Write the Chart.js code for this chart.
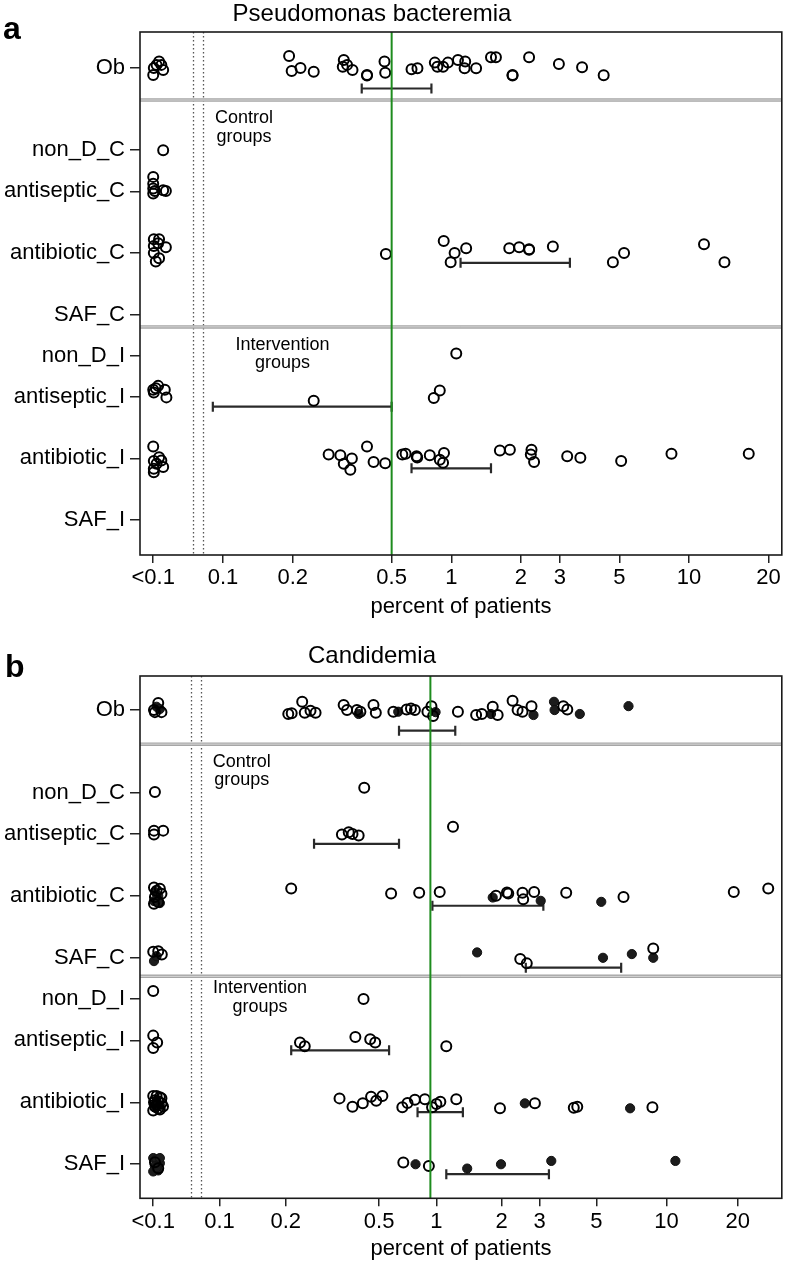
<!DOCTYPE html>
<html>
<head>
<meta charset="utf-8">
<script src="https://cdn.jsdelivr.net/npm/chart.js@4.4.1/dist/chart.umd.min.js"></script>
<style>
  html, body { margin: 0; padding: 0; background: #fff; }
  #wrap { position: relative; width: 789px; height: 1266px; }
  canvas { position: absolute; left: 0; }
  #pse { top: 0; }
  #cand { top: 625px; }
</style>
</head>
<body>
<div id="wrap">
  <canvas id="pse" width="789" height="625"></canvas>
  <canvas id="cand" width="789" height="641"></canvas>
</div>
<script>
const FONT = "'Liberation Sans', Arial, Helvetica, sans-serif";

const rowLabels = ['Ob', 'non_D_C', 'antiseptic_C', 'antibiotic_C', 'SAF_C', 'non_D_I', 'antiseptic_I', 'antibiotic_I', 'SAF_I'];
const tickVals = [0.05, 0.1, 0.2, 0.5, 1, 2, 3, 5, 10, 20];
const tickLabels = ['<0.1', '0.1', '0.2', '0.5', '1', '2', '3', '5', '10', '20'];

// ---- a: Pseudomonas bacteremia, percent of patients per study (values near 0.05 are the "<0.1" column)
const pseOb = [0.050, 0.0503, 0.053, 0.0552, 0.0542, 0.0517, 0.193, 0.198, 0.215, 0.243, 0.318, 0.321, 0.331, 0.348, 0.398, 0.398, 0.468, 0.471, 0.630, 0.675, 0.826, 0.851, 0.909, 0.962, 1.069, 1.142, 1.149, 1.281, 1.486, 1.561, 1.842, 1.842, 2.18, 2.97, 3.63, 4.37];
const pseNonDC = [0.0552];
const pseAntisepticC = [0.050, 0.050, 0.050, 0.050, 0.0508, 0.0567, 0.0552];
const pseAntibioticC = [0.0503, 0.053, 0.0503, 0.0567, 0.0503, 0.053, 0.0513, 0.0525, 0.474, 0.916, 0.993, 1.034, 1.160, 1.783, 1.968, 2.18, 2.18, 2.79, 4.73, 5.24, 11.40, 13.63];
const pseSafC = [];
const pseNonDI = [1.051];
const pseAntisepticI = [0.050, 0.0525, 0.0561, 0.057, 0.0503, 0.0513, 0.243, 0.816, 0.875];
const pseAntibioticI = [0.050, 0.0503, 0.0542, 0.0552, 0.0503, 0.0517, 0.053, 0.0503, 0.279, 0.311, 0.321, 0.346, 0.341, 0.398, 0.423, 0.471, 0.566, 0.588, 0.668, 0.673, 0.779, 0.875, 0.919, 0.909, 1.624, 1.794, 2.235, 2.219, 2.296, 3.195, 3.577, 5.09, 8.40, 16.85];
const pseSafI = [];
const pseCiLow = [0.379, null, null, 1.097, null, null, 0.0904, 0.630, null];
const pseCiHigh = [0.794, null, null, 3.27, null, null, 0.5, 1.486, null];
const pseRef = 0.5;

// ---- b: Candidemia, open = one study type, filled = the other
const candOb = [0.0504, 0.0527, 0.0545, 0.0509, 0.205, 0.212, 0.235, 0.241, 0.255, 0.268, 0.353, 0.365, 0.402, 0.416, 0.473, 0.484, 0.594, 0.697, 0.735, 0.771, 0.897, 0.942, 0.961, 1.257, 1.525, 1.620, 1.819, 1.917, 2.247, 2.370, 2.498, 2.749, 3.712, 3.848];
const candObF = [0.0518, 0.0536, 0.409, 0.630, 0.99, 1.786, 2.807, 3.413, 3.431, 4.308, 6.87];
const candNonDC = [0.0509, 0.432];
const candAntisepticC = [0.0504, 0.0504, 0.0555, 0.347, 0.371, 0.385, 0.409, 1.193];
const candAntibioticC = [0.0504, 0.0518, 0.0536, 0.0509, 0.0545, 0.0527, 0.0504, 0.211, 0.578, 0.812, 1.036, 1.883, 2.116, 2.146, 2.498, 2.516, 2.827, 3.81, 6.54, 19.24, 26.9];
const candAntibioticCF = [0.0509, 0.0527, 0.0518, 0.0536, 0.0504, 1.819, 3.027, 5.25];
const candSafC = [0.050, 0.0527, 0.0547, 2.438, 2.614, 8.77];
const candSafCF = [0.0504, 0.0518, 1.541, 5.34, 7.10, 8.77];
const candNonDI = [0.050, 0.429];
const candAntisepticI = [0.050, 0.0521, 0.050, 0.230, 0.241, 0.396, 0.458, 0.481, 1.111];
const candAntibioticI = [0.050, 0.0509, 0.0518, 0.0527, 0.0536, 0.0545, 0.0554, 0.050, 0.0509, 0.0527, 0.0545, 0.0504, 0.0536, 0.0518, 0.339, 0.385, 0.426, 0.462, 0.486, 0.520, 0.662, 0.705, 0.771, 0.870, 0.949, 1.0, 1.043, 1.235, 1.965, 2.85, 4.08, 4.21, 8.70];
const candAntibioticIF = [0.0518, 0.0536, 0.0509, 2.56, 6.98];
const candSafI = [0.0509, 0.0527, 0.670, 0.913];
const candSafIF = [0.050, 0.0518, 0.0536, 0.0509, 0.0527, 0.050, 0.0518, 0.0536, 0.777, 1.387, 1.986, 3.33, 10.9];
const candCiLow = [0.636, null, 0.264, 0.953, 2.587, null, 0.211, 0.796, 1.111];
const candCiHigh = [1.222, null, 0.636, 3.10, 6.39, null, 0.564, 1.325, 3.26];
const candRef = 0.93;

// ---- layout: row positions, vertical jitter of every point (row units), axis calibration
const rowPos = [0, 4, 6, 9, 12, 14, 16, 19, 22];
const breakVals = [0.0744, 0.0823];

const pseJit = [
  [0.34, 0, -0.31, 0.1, -0.15, -0.15, -0.58, 0.15, 0, 0.18, -0.06, -0.39, -0.15, 0.1, 0.34, 0.37, -0.31, 0.23, 0.06, 0.01, -0.26, -0.06, -0.06, -0.26, -0.39, 0.01, -0.31, 0.01, -0.52, -0.52, 0.34, 0.37, -0.52, -0.19, -0.03, 0.36],
  [0],
  [-0.7, -0.37, -0.13, 0.11, -0.01, -0.01, -0.05],
  [-0.67, -0.67, -0.34, -0.28, 0, 0.26, 0.42, -0.47, 0.05, -0.58, 0.45, 0, -0.23, -0.23, -0.28, -0.18, -0.15, -0.31, 0.45, 0, -0.42, 0.45],
  [],
  [-0.11],
  [-0.34, -0.53, -0.34, 0.03, -0.21, -0.42, 0.19, 0.06, -0.31],
  [-0.58, 0.13, 0.1, 0.42, 0.5, 0.26, -0.06, 0.67, -0.19, -0.15, 0.26, 0, 0.55, -0.58, 0.18, 0.23, -0.19, -0.23, -0.1, -0.05, -0.15, 0.06, -0.26, 0.21, -0.39, -0.42, -0.42, -0.19, 0.18, -0.11, -0.03, 0.13, -0.23, -0.23],
  []
];
const candJit = [
  [0, -0.34, 0.1, 0.1, 0.19, 0.16, -0.40, 0.13, 0.03, 0.13, -0.24, 0, 0, 0.08, -0.24, 0.13, 0.08, -0.03, -0.08, 0, 0.08, -0.19, 0.29, 0.08, 0.24, 0.19, -0.16, 0.24, -0.45, 0, 0.08, -0.19, -0.19, -0.03],
  [-0.03, -0.24],
  [-0.16, 0.03, -0.16, 0.03, -0.08, 0, 0.08, -0.35],
  [-0.4, -0.25, -0.35, 0.05, -0.1, 0.3, 0.38, -0.36, -0.12, -0.15, -0.19, 0, -0.16, -0.12, -0.15, 0.17, -0.19, -0.15, 0.05, -0.19, -0.36],
  [-0.29, -0.32, -0.16, 0.06, 0.27, -0.45],
  [-0.39, 0],
  [-0.23, 0.1, 0.37, 0.1, 0.29, -0.16, -0.06, 0.1, 0.29],
  [-0.3, -0.1, 0.1, 0.3, -0.25, 0.05, 0.2, 0.4, 0.2, -0.05, -0.2, 0, 0.35, -0.3, -0.19, 0.21, 0.05, -0.27, -0.08, -0.31, 0.24, 0.03, -0.12, -0.15, 0.24, 0.08, -0.03, -0.15, 0.29, 0.05, 0.26, 0.21, 0.24],
  [-0.1, 0.2, -0.08, 0.08]
];
const candJitF = [
  [-0.16, -0.05, 0.19, 0.08, 0.1, 0.19, 0.24, -0.40, 0, 0.19, -0.19],
  [], [],
  [-0.2, 0, 0.2, 0.35, 0.25, 0.08, 0.24, 0.29],
  [0.16, -0.08, -0.26, 0, -0.18, 0],
  [], [],
  [0, 0.15, 0.25, 0.05, 0.29],
  [-0.3, -0.25, -0.05, 0.1, 0.3, 0.35, 0.15, -0.3, 0, 0.21, 0, -0.16, -0.16]
];

// where each tick value sits along the axis (percent of axis length); the original axis is not a pure log scale
const pseStops = [2.06, 12.93, 23.79, 39.21, 48.50, 59.33, 65.42, 74.69, 85.54, 97.91];
const candStops = [2.06, 12.38, 22.71, 37.26, 46.18, 56.35, 62.28, 71.10, 82.04, 93.14];

function makeWarp(stops) {
  const logs = tickVals.map(Math.log10);
  return function (v) {
    const l = Math.log10(v);
    let i = 0;
    while (i < logs.length - 2 && l > logs[i + 1]) i++;
    return stops[i] + (l - logs[i]) * (stops[i + 1] - stops[i]) / (logs[i + 1] - logs[i]);
  };
}

function line(ctx, x1, y1, x2, y2) {
  ctx.beginPath();
  ctx.moveTo(x1, y1);
  ctx.lineTo(x2, y2);
  ctx.stroke();
}

const decor = {
  id: 'decor',
  beforeDatasetsDraw(chart, args, o) {
    const { ctx, chartArea: a, scales: { x, y } } = chart;
    ctx.save();
    ctx.strokeStyle = '#555';
    ctx.lineWidth = 1.3;
    ctx.setLineDash([1.4, 2.6]);
    breakVals.forEach(v => {
      const px = Math.round(x.getPixelForValue(o.warp(v))) + 0.5;
      line(ctx, px, a.top, px, a.bottom);
    });
    ctx.setLineDash([]);
    o.seps.forEach(s => {
      const py = y.getPixelForValue(s);
      ctx.strokeStyle = '#a6a6a6';
      ctx.lineWidth = 3.5;
      line(ctx, a.left, py, a.right, py);
      ctx.strokeStyle = '#d8d8d8';
      ctx.lineWidth = 1;
      line(ctx, a.left, py, a.right, py);
    });
    ctx.fillStyle = '#000';
    ctx.font = '18px ' + FONT;
    ctx.textAlign = 'center';
    ctx.textBaseline = 'middle';
    o.notes.forEach(n => {
      ctx.fillText(n.lines[0], a.left + n.dx, y.getPixelForValue(n.y[0]));
      ctx.fillText(n.lines[1], a.left + n.dx, y.getPixelForValue(n.y[1]));
    });
    ctx.restore();
  },
  afterDraw(chart, args, o) {
    const { ctx, chartArea: a } = chart;
    ctx.save();
    ctx.strokeStyle = '#1a1a1a';
    ctx.lineWidth = 1.6;
    ctx.strokeRect(a.left, a.top, a.right - a.left, a.bottom - a.top);
    ctx.fillStyle = '#000';
    ctx.textBaseline = 'alphabetic';
    ctx.textAlign = 'center';
    ctx.font = '24px ' + FONT;
    ctx.fillText(o.title, 372, o.titleY);
    ctx.textAlign = 'left';
    ctx.font = 'bold 32px ' + FONT;
    ctx.fillText(o.letter, o.letterX, o.letterY);
    ctx.restore();
  }
};

function points(warp, vals, jit) {
  const out = [];
  vals.forEach((row, i) => row.forEach((v, k) => out.push({ x: warp(v), y: rowPos[i] + jit[i][k] })));
  return out;
}

function buildChart(id, cfg) {
  const warp = makeWarp(cfg.stops);
  const datasets = [
    {
      data: [{ x: warp(cfg.ref), y: cfg.yMin }, { x: warp(cfg.ref), y: cfg.yMax }],
      showLine: true, borderColor: '#1e8c1e', borderWidth: 2, pointRadius: 0, order: 0
    },
    {
      data: points(warp, cfg.open, cfg.jit),
      pointRadius: 5, pointBorderWidth: 2, pointBorderColor: '#000',
      pointBackgroundColor: 'rgba(0,0,0,0)', order: 1
    },
    {
      data: points(warp, cfg.filled, cfg.jitF),
      pointRadius: 4.6, pointBorderWidth: 1, pointBorderColor: '#111',
      pointBackgroundColor: '#1c1c1c', order: 1
    }
  ];
  cfg.lo.forEach((lo, i) => {
    if (lo == null) return;
    const yy = rowPos[i] + (i === 0 ? 1.0 : 0.48);
    datasets.push({
      data: [{ x: warp(lo), y: yy }, { x: warp(cfg.hi[i]), y: yy }],
      showLine: true, borderColor: '#2a2a2a', borderWidth: 2.2,
      pointStyle: 'line', pointRotation: 90, pointRadius: 5,
      pointBorderColor: '#2a2a2a', pointBorderWidth: 2.2, order: 2
    });
  });

  return new Chart(document.getElementById(id), {
    type: 'scatter',
    data: { datasets },
    options: {
      responsive: false,
      animation: false,
      events: [],
      layout: { padding: { top: cfg.padTop, right: 3, left: 0, bottom: 0 } },
      plugins: {
        legend: { display: false },
        tooltip: { enabled: false },
        decor: {
          warp, seps: cfg.seps, notes: cfg.notes, title: cfg.title, titleY: cfg.titleY,
          letter: cfg.letter, letterX: cfg.letterX, letterY: cfg.letterY
        }
      },
      scales: {
        x: {
          type: 'linear', min: 0, max: 100,
          afterBuildTicks: s => { s.ticks = tickVals.map(v => ({ value: warp(v) })); },
          afterFit: s => { s.height = cfg.xAxisH; },
          ticks: {
            autoSkip: false, maxRotation: 0, padding: 2, color: '#000',
            font: { family: FONT, size: 22 },
            callback: (v, i) => tickLabels[i]
          },
          grid: { drawOnChartArea: false, tickLength: 8, color: '#222', lineWidth: 1.5 },
          border: { display: false },
          title: {
            display: true, text: 'percent of patients', color: '#000',
            font: { family: FONT, size: 22 }, padding: { top: 0, bottom: cfg.titlePad }
          }
        },
        y: {
          type: 'linear', reverse: true, min: cfg.yMin, max: cfg.yMax,
          afterBuildTicks: s => { s.ticks = rowPos.map(v => ({ value: v })); },
          afterFit: s => { s.width = 140; },
          ticks: {
            autoSkip: false, padding: 5, color: '#000',
            font: { family: FONT, size: 22 },
            callback: (v, i) => rowLabels[i]
          },
          grid: { drawOnChartArea: false, tickLength: 10, color: '#222', lineWidth: 1.5 },
          border: { display: false }
        }
      }
    },
    plugins: [decor]
  });
}

buildChart('pse', {
  stops: pseStops, ref: pseRef, lo: pseCiLow, hi: pseCiHigh,
  open: [pseOb, pseNonDC, pseAntisepticC, pseAntibioticC, pseSafC, pseNonDI, pseAntisepticI, pseAntibioticI, pseSafI],
  jit: pseJit,
  filled: [[], [], [], [], [], [], [], [], []],
  jitF: [[], [], [], [], [], [], [], [], []],
  yMin: -1.75, yMax: 23.7, padTop: 32, xAxisH: 70, titlePad: 5,
  seps: [1.56, 12.6],
  notes: [
    { lines: ['Control', 'groups'], dx: 104, y: [2.43, 3.36] },
    { lines: ['Intervention', 'groups'], dx: 142.5, y: [13.48, 14.36] }
  ],
  title: 'Pseudomonas bacteremia', titleY: 20.7,
  letter: 'a', letterX: 3, letterY: 39
});

buildChart('cand', {
  stops: candStops, ref: candRef, lo: candCiLow, hi: candCiHigh,
  open: [candOb, candNonDC, candAntisepticC, candAntibioticC, candSafC, candNonDI, candAntisepticI, candAntibioticI, candSafI],
  jit: candJit,
  filled: [candObF, [], [], candAntibioticCF, candSafCF, [], [], candAntibioticIF, candSafIF],
  jitF: candJitF,
  yMin: -1.65, yMax: 23.65, padTop: 51, xAxisH: 67.7, titlePad: 4,
  seps: [1.65, 12.9],
  notes: [
    { lines: ['Control', 'groups'], dx: 101.7, y: [2.5, 3.39] },
    { lines: ['Intervention', 'groups'], dx: 120, y: [13.48, 14.38] }
  ],
  title: 'Candidemia', titleY: 38.3,
  letter: 'b', letterX: 5, letterY: 51.7
});
</script>
</body>
</html>
